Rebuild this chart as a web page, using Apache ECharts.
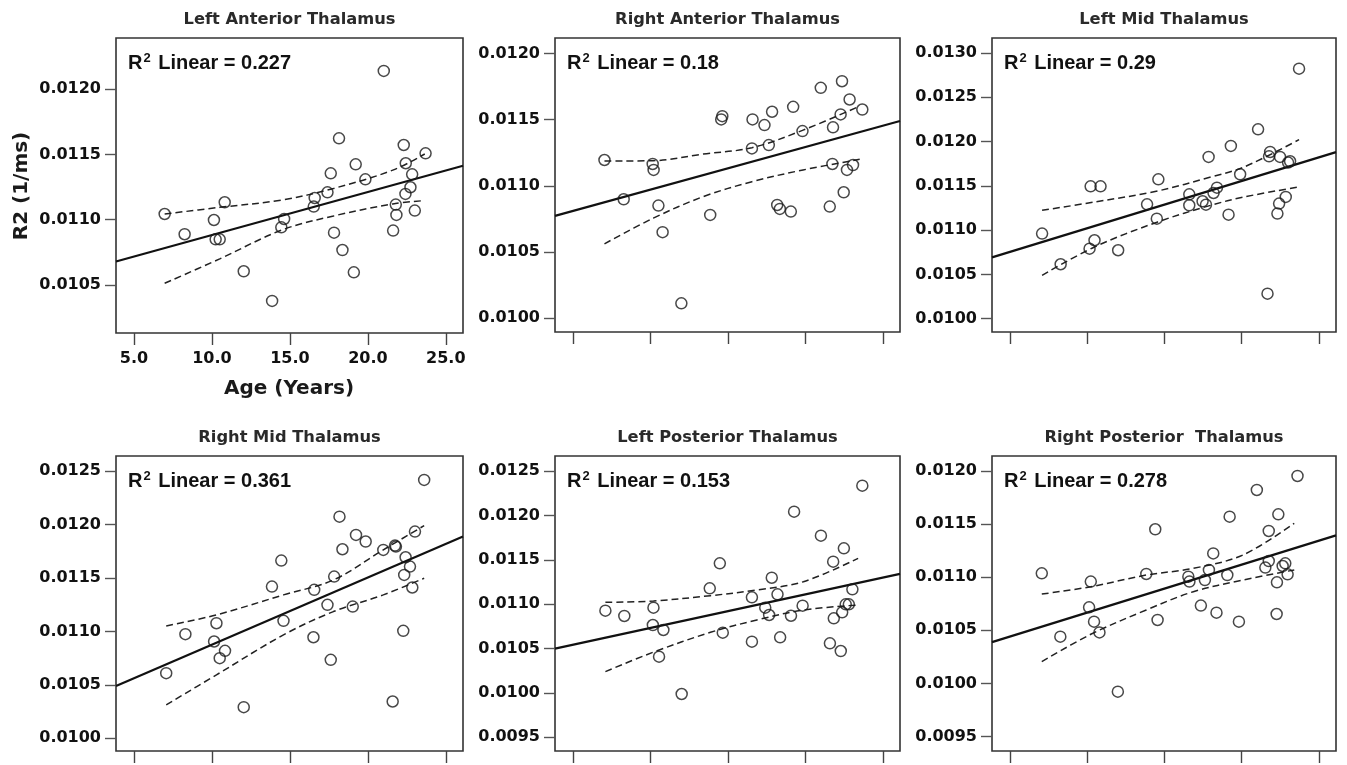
<!DOCTYPE html>
<html><head><meta charset="utf-8">
<script src="https://cdn.jsdelivr.net/npm/echarts@6/dist/echarts.min.js"></script>
<style>html,body{margin:0;padding:0;background:#fff}#c{width:1347px;height:765px}</style>
</head><body><div id="c"></div>
<script>
// ---------- DATA ----------
const panelTitles = ['Left Anterior Thalamus','Right Anterior Thalamus','Left Mid Thalamus','Right Mid Thalamus','Left Posterior Thalamus','Right Posterior  Thalamus'];
const r2Labels = ['0.227','0.18','0.29','0.361','0.153','0.278'];
const xTicks = [5, 10, 15, 20, 25];
const fitX = [3.85, 26.1];

// Left Anterior
const agesLA = [6.97,8.25,10.13,10.24,10.5,10.82,12.04,13.86,14.45,14.63,16.53,16.59,17.41,17.62,17.83,18.15,18.37,19.22,19.1,19.84,21.02,21.62,21.79,21.83,22.3,22.43,22.41,22.73,22.84,23.01,23.7];
const r2LA = [0.011044,0.010889,0.010998,0.01085,0.01085,0.011134,0.010605,0.010378,0.010942,0.011006,0.011101,0.011167,0.01121,0.011356,0.010901,0.011624,0.010768,0.011425,0.010597,0.01131,0.012141,0.010917,0.011116,0.011037,0.011573,0.011433,0.011198,0.011249,0.011348,0.01107,0.011509];
const fitLA = [0.010680, 0.011414];
const ciXLA = [6.97,10.5,14.5,17.8,21.6,23.65];
const ciUpLA = [0.011044,0.011095,0.011152,0.011240,0.011380,0.011504];
const ciLoLA = [0.010513,0.010700,0.010922,0.011029,0.011121,0.011147];
const yTicksLA = [0.0105,0.0110,0.0115,0.0120];

// Right Anterior
const agesRA = [7.04,8.28,10.15,10.21,10.52,10.79,12.0,13.86,14.57,14.64,16.55,16.59,17.36,17.64,17.85,18.18,18.35,19.06,19.21,19.81,20.99,21.57,21.74,21.78,22.27,22.36,22.47,22.68,22.85,23.07,23.67];
const r2RA = [0.011195,0.010898,0.011165,0.01112,0.01085,0.010649,0.010111,0.01078,0.011502,0.011527,0.011283,0.011502,0.011459,0.011308,0.01156,0.010855,0.010825,0.010805,0.011597,0.011414,0.011741,0.010843,0.011165,0.011442,0.01154,0.011791,0.010951,0.01112,0.011653,0.011157,0.011577];
const fitRA = [0.010772, 0.011490];
const ciXRA = [7.04,10.19,13.41,16.55,19.85,23.5];
const ciUpRA = [0.011187,0.011190,0.011240,0.011288,0.011421,0.011603];
const ciLoRA = [0.010561,0.010755,0.010918,0.011031,0.011120,0.011200];
const yTicksRA = [0.0100,0.0105,0.0110,0.0115,0.0120];

// Left Mid
const agesLM = [7.09,8.29,10.16,10.48,10.23,10.87,12.01,13.88,14.51,14.61,16.61,16.61,17.47,17.69,17.86,18.18,18.4,19.15,19.3,19.9,21.06,21.67,21.77,21.84,22.31,22.42,22.48,22.85,23.0,23.13,23.71];
const r2LM = [0.01096,0.010614,0.01079,0.010885,0.011494,0.011494,0.010772,0.011291,0.011129,0.011573,0.011404,0.01128,0.011325,0.011287,0.011826,0.011419,0.011479,0.011174,0.01195,0.01163,0.012138,0.010282,0.011833,0.011882,0.011186,0.011299,0.011826,0.011374,0.011762,0.011777,0.012823];
const fitLM = [0.010692, 0.011880];
const ciXLM = [7.09,10.48,14.57,18.01,20.16,23.71];
const ciUpLM = [0.011223,0.011317,0.011442,0.011600,0.011713,0.012021];
const ciLoLM = [0.010489,0.010809,0.011092,0.011280,0.011374,0.011487];
const yTicksLM = [0.0100,0.0105,0.0110,0.0115,0.0120,0.0125,0.0130];

// Right Mid
const agesRM = [7.07,8.3,10.14,10.29,10.5,10.84,12.04,13.85,14.45,14.59,16.51,16.56,17.41,17.62,17.84,18.18,18.37,19.03,19.24,19.86,20.99,21.59,21.74,21.8,22.27,22.33,22.42,22.7,22.85,23.02,23.61];
const r2RM = [0.010609,0.010974,0.010905,0.011076,0.010749,0.010818,0.010291,0.011419,0.011662,0.011098,0.010945,0.011388,0.011248,0.010734,0.011512,0.012073,0.011768,0.011232,0.011902,0.01184,0.011762,0.010344,0.011802,0.011793,0.011005,0.011528,0.011693,0.011606,0.01141,0.011933,0.012416];
const fitRM = [0.010488, 0.011888];
const ciXRM = [7.07,10.29,14.59,17.79,20.99,23.61];
const ciUpRM = [0.011051,0.011154,0.011341,0.011481,0.011762,0.011989];
const ciLoRM = [0.010313,0.010593,0.010967,0.011185,0.011341,0.011497];
const yTicksRM = [0.0100,0.0105,0.0110,0.0115,0.0120,0.0125];

// Left Posterior
const agesLP = [7.1,8.32,10.2,10.16,10.84,10.56,12.02,13.83,14.48,14.67,16.55,16.55,17.41,17.66,17.83,18.2,18.37,19.07,19.27,19.82,21.0,21.58,21.79,21.83,22.28,22.37,22.48,22.6,22.8,23.03,23.67];
const r2LP = [0.010927,0.010867,0.010961,0.010765,0.010709,0.010409,0.009988,0.011178,0.01146,0.010679,0.011077,0.010578,0.010961,0.010878,0.011298,0.011111,0.010626,0.01087,0.012042,0.010983,0.011772,0.010559,0.011479,0.01084,0.010472,0.010908,0.011629,0.010998,0.010998,0.011167,0.012335];
const fitLP = [0.010499, 0.011341];
const ciXLP = [7.1,10.2,13.88,16.87,19.87,23.4];
const ciUpLP = [0.011021,0.011036,0.011096,0.011160,0.011253,0.011516];
const ciLoLP = [0.010240,0.010460,0.010683,0.010822,0.010934,0.010991];
const yTicksLP = [0.0095,0.0100,0.0105,0.0110,0.0115,0.0120,0.0125];

// Right Posterior
const agesRP = [7.07,8.27,10.24,10.13,10.45,10.8,11.99,13.83,14.41,14.56,16.55,16.62,17.36,17.62,17.88,18.16,18.37,19.07,19.22,19.82,20.98,21.53,21.75,21.75,22.26,22.28,22.37,22.65,22.82,22.97,23.61];
const r2RP = [0.011036,0.01044,0.010958,0.010716,0.010581,0.01048,0.009922,0.01103,0.011451,0.010597,0.011005,0.010958,0.010732,0.010973,0.011068,0.011224,0.010666,0.01102,0.01157,0.010581,0.011821,0.01109,0.011152,0.011435,0.010653,0.010951,0.011592,0.011105,0.01113,0.011027,0.011953];
const fitRP = [0.010388, 0.011394];
const ciXRP = [7.07,10.24,13.83,16.87,20.08,23.4];
const ciUpRP = [0.010841,0.010910,0.011020,0.011083,0.011209,0.011507];
const ciLoRP = [0.010204,0.010462,0.010691,0.010863,0.010973,0.011068];
const yTicksRP = [0.0095,0.0100,0.0105,0.0110,0.0115,0.0120];

// ---------- LAYOUT ----------
const panels = [
  {ages:agesLA, vals:r2LA, fit:fitLA, ciX:ciXLA, up:ciUpLA, lo:ciLoLA, yt:yTicksLA, ymin:0.010132, ymax:0.012393, box:[116,38,347,295], xLabels:true},
  {ages:agesRA, vals:r2RA, fit:fitRA, ciX:ciXRA, up:ciUpRA, lo:ciLoRA, yt:yTicksRA, ymin:0.009894, ymax:0.012118, box:[555,38,345,294]},
  {ages:agesLM, vals:r2LM, fit:fitLM, ciX:ciXLM, up:ciUpLM, lo:ciLoLM, yt:yTicksLM, ymin:0.009849, ymax:0.013169, box:[992,38,344,294]},
  {ages:agesRM, vals:r2RM, fit:fitRM, ciX:ciXRM, up:ciUpRM, lo:ciLoRM, yt:yTicksRM, ymin:0.009881, ymax:0.012640, box:[116,456,347,295]},
  {ages:agesLP, vals:r2LP, fit:fitLP, ciX:ciXLP, up:ciUpLP, lo:ciLoLP, yt:yTicksLP, ymin:0.009346, ymax:0.012669, box:[555,456,345,295]},
  {ages:agesRP, vals:r2RP, fit:fitRP, ciX:ciXRP, up:ciUpRP, lo:ciLoRP, yt:yTicksRP, ymin:0.009363, ymax:0.012141, box:[992,456,344,295]}
];

const tickFont = {fontFamily:'DejaVu Sans', fontWeight:'bold', fontSize:16, color:'#111'};
const grids=[], xAxes=[], yAxes=[], series=[], graphics=[];
const zip = (a,b) => a.map((v,i)=>[v,b[i]]);

panels.forEach((p,i)=>{
  const [l,t,w,h] = p.box;
  grids.push({left:l, top:t, width:w, height:h, show:true, borderColor:'#333', borderWidth:1.6, backgroundColor:'transparent', containLabel:false});
  xAxes.push({type:'value', gridIndex:i, min:fitX[0], max:fitX[1],
    axisLine:{show:false}, splitLine:{show:false},
    axisTick:{show:true, length:12, customValues:xTicks, lineStyle:{color:'#444', width:1.4}},
    axisLabel:{show:!!p.xLabels, customValues:xTicks, margin:18, formatter:v=>v.toFixed(1), ...tickFont}
  });
  yAxes.push({type:'value', gridIndex:i, min:p.ymin, max:p.ymax,
    axisLine:{show:false}, splitLine:{show:false},
    axisTick:{show:true, length:11, customValues:p.yt, lineStyle:{color:'#555', width:1.4}},
    axisLabel:{show:true, customValues:p.yt, margin:15, formatter:v=>v.toFixed(4), ...tickFont}
  });
  series.push({type:'line', xAxisIndex:i, yAxisIndex:i, data:zip(fitX,p.fit), showSymbol:false, silent:true,
    lineStyle:{color:'#111', width:2.2}, z:3});
  series.push({type:'line', xAxisIndex:i, yAxisIndex:i, data:zip(p.ciX,p.up), showSymbol:false, smooth:0.35, silent:true,
    lineStyle:{color:'#222', width:1.5, type:[7,4]}, z:3});
  series.push({type:'line', xAxisIndex:i, yAxisIndex:i, data:zip(p.ciX,p.lo), showSymbol:false, smooth:0.35, silent:true,
    lineStyle:{color:'#222', width:1.5, type:[7,4]}, z:3});
  series.push({type:'scatter', xAxisIndex:i, yAxisIndex:i, data:zip(p.ages,p.vals), symbol:'circle', symbolSize:11,
    itemStyle:{color:'rgba(255,255,255,0)', borderColor:'#1a1a1a', borderWidth:1.5}, z:4});
  // panel title
  graphics.push({type:'text', x:l+w/2, y:t-18, style:{text:panelTitles[i], align:'center', verticalAlign:'middle',
    fontFamily:'DejaVu Sans', fontWeight:'bold', fontSize:16.3, fill:'#2a2a2a'}});
  // R² annotation
  graphics.push({type:'text', x:l+12, y:t+25, style:{
    text:'{a|R}{s|2}{a| Linear = '+r2Labels[i]+'}', align:'left', verticalAlign:'middle',
    rich:{a:{fontFamily:'Liberation Sans', fontWeight:'bold', fontSize:20, fill:'#111', lineHeight:24},
          s:{fontFamily:'Liberation Sans', fontWeight:'bold', fontSize:13, fill:'#111', lineHeight:24, padding:[0,2,10,1]}}}});
});

graphics.push({type:'text', x:22, y:186, rotation:Math.PI/2, style:{text:'R2 (1/ms)', align:'center', verticalAlign:'middle',
  fontFamily:'DejaVu Sans', fontWeight:'bold', fontSize:20, fill:'#1a1a1a'}});
graphics.push({type:'text', x:289, y:389, style:{text:'Age (Years)', align:'center', verticalAlign:'middle',
  fontFamily:'DejaVu Sans', fontWeight:'bold', fontSize:20, fill:'#1a1a1a'}});

const chart = echarts.init(document.getElementById('c'), null, {renderer:'canvas'});
chart.setOption({animation:false, backgroundColor:'#fff', grid:grids, xAxis:xAxes, yAxis:yAxes, series:series, graphic:graphics});
</script></body></html>
